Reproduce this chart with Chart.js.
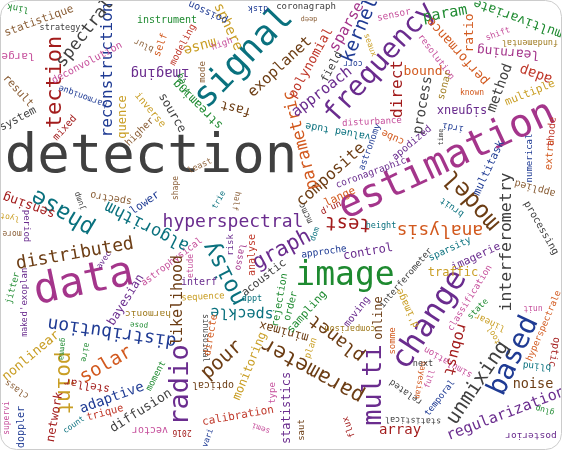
<!DOCTYPE html>
<html>
<head>
<meta charset="utf-8">
<script src="https://cdn.jsdelivr.net/npm/chart.js@4.4.1/dist/chart.umd.min.js"></script>
<style>
  html, body { margin: 0; padding: 0; background: #ffffff; }
  #wrap { position: relative; width: 562px; height: 450px; }
</style>
</head>
<body>
<div id="wrap"><canvas id="cloud"></canvas></div>
<script>
// word cloud, layout units match the 562 x 450 frame (y grows downward)
const words = [
  'detection', 'estimation', 'image', 'data', 'signal', 'frequency', 'change', 'multi', 'based', 'tection',
  'reconstruction', 'spectral', 'point', 'distribution', 'phase', 'model', 'radio', 'noisy', 'hyperspectral', 'parameter',
  'planet', 'unmixing', 'regularization', 'interferometry', 'analysis', 'test', 'composite', 'parametric', 'exoplanet', 'polynomial',
  'approach', 'kernel', 'sparse', 'field', 'coronagraph', 'disk', 'deep', 'sphere', 'muse', 'high',
  'poisson', 'imaging', 'instrument', 'statistique', 'link', 'strategy', 'large', 'deconvolution', 'result', 'system',
  'harmonique', 'mixed', 'quence', 'higher', 'inverse', 'source', 'blur', 'self', 'modeling', 'back',
  'streaming', 'mode', 'fast', 'sensor', 'param', 'multivariate', 'shift', 'fundamental', 'performance', 'ratio',
  'resolution', 'learning', 'adap', 'direct', 'bound', 'process', 'sonar', 'known', 'method', 'multiple',
  'signaux', 'irdi', 'time', 'apodized', 'cube', 'disturbance', 'valued tude', 'astronomy', 'coronagraphic', 'lange',
  "d'un", 'mcmc', 'graph', 'dom', 'approche', 'control', 'risk', 'lasso', 'analyse', 'half',
  'trie', 'least', 'shape', 'algorithm', 'lower', 'spectro', 'jump', 'sensing', 'period', 'lyot',
  'more', 'distributed', 'avec', 'astrophysical', 'etude', 'interf', 'sequence', 'likelihood', 'bayesian', 'harmonic',
  'pose', 'acoustic', 'speckle', 'dppt', 'sinusoidal', 'directe', 'pour', 'optical', 'monitoring', 'minimax',
  'rejection', 'order', 'sampling', 'moving', 'online', 'interferometer', "d'image", 'somme', 'comparison', 'plan',
  'statistics', 'saut', 'type', 'calibration', 'semi', 'vari', '2016', 'flux', 'array', 'statistical',
  'related', 'bayesian', 'next', 'full', 'temporal', 'simulation', 'robust', 'classification', 'state', 'linear',
  'tool', 'unit', 'hyperspectrale', 'optic', 'blind', 'noise', 'glup', 'posterior', 'extra', 'thode',
  'numerical', 'applied', 'processing', 'multitask', 'bruit', 'sparsity', 'imagerie', 'traffic', 'height', 'jitter',
  "d'exoplan", 'make', 'nonlinear', 'class', 'supervi', 'doppler', 'network', 'gamma', 'aire', 'solar',
  'stellar', 'adaptive', 'moment', 'trique', 'count', 'diffusion', 'vector', 'corr', 'seaux'
];

const posX = [
  151, 447, 345, 84, 244, 380, 430, 374, 514, 55,
  108, 85, 63, 112, 63, 472, 181, 225, 233, 313,
  337, 478, 506, 507, 440, 348, 331, 301, 280, 311,
  322, 360, 347, 332, 306, 258, 309, 228, 200, 222,
  208, 160, 167, 39, 18, 60, 18, 87, 18, 18,
  83, 65, 123, 140, 150, 172, 144, 161, 183, 183,
  198, 203, 236, 394, 445, 518, 498, 530, 458, 470,
  436, 508, 536, 398, 423, 423, 445, 472, 500, 530,
  462, 453, 441, 412, 393, 372, 338, 370, 371, 340,
  331, 306, 282, 315, 324, 368, 231, 240, 252, 236,
  219, 200, 176, 147, 145, 111, 80, 29, 26, 10,
  12, 75, 104, 172, 191, 199, 203, 178, 126, 148,
  139, 264, 242, 252, 205, 211, 222, 213, 250, 284,
  280, 291, 307, 357, 379, 406, 408, 393, 350, 311,
  287, 302, 273, 238, 261, 208, 182, 349, 400, 413,
  406, 420, 423, 430, 440, 448, 455, 470, 478, 490,
  494, 533, 544, 554, 537, 533, 545, 531, 550, 552,
  530, 535, 541, 489, 452, 450, 476, 453, 381, 13,
  25, 25, 31, 17, 7, 21, 55, 62, 85, 106,
  87, 112, 156, 105, 74, 141, 150, 353, 370
];

const posY = [
  158, 161, 276, 283, 58, 63, 320, 385, 356, 82,
  70, 33, 383, 332, 212, 200, 385, 273, 222, 370,
  338, 383, 414, 242, 230, 223, 175, 140, 67, 63,
  92, 30, 27, 67, 7, 8, 19, 27, 46, 44,
  12, 73, 20, 21, 8, 28, 56, 63, 91, 119,
  96, 128, 117, 132, 110, 113, 45, 45, 45, 84,
  104, 72, 108, 15, 14, 18, 34, 42, 51, 33,
  57, 52, 74, 89, 72, 105, 85, 93, 88, 93,
  110, 127, 137, 143, 137, 122, 131, 147, 173, 197,
  208, 213, 250, 234, 252, 252, 245, 257, 255, 201,
  200, 166, 188, 226, 203, 198, 201, 205, 226, 217,
  233, 254, 260, 262, 266, 282, 297, 300, 300, 313,
  325, 278, 313, 299, 338, 335, 360, 385, 366, 331,
  300, 306, 312, 312, 318, 278, 308, 341, 328, 348,
  408, 430, 393, 416, 428, 438, 432, 427, 430, 420,
  392, 380, 364, 379, 398, 362, 349, 298, 309, 322,
  335, 308, 326, 352, 366, 384, 410, 435, 155, 132,
  158, 188, 228, 168, 207, 249, 257, 273, 226, 288,
  292, 327, 356, 389, 418, 427, 417, 349, 352, 365,
  385, 398, 376, 413, 425, 411, 430, 63, 45
];

// word weight, drawn as the font size
const weight = [
  54, 39, 33, 42, 35, 28, 31, 27, 28, 22,
  16, 17, 21, 18, 23, 24, 27, 23, 18, 21,
  18, 20, 15, 16.5, 18, 19, 16, 17, 15, 13,
  15, 19, 15, 11, 9, 8.5, 7, 14, 14, 9,
  10, 14, 10, 11, 9, 8.5, 11, 10, 11, 11,
  8.5, 10, 12, 10, 10, 12, 8.5, 10, 9.5, 9,
  12, 9, 13, 9.5, 15, 13, 8.5, 8.5, 13, 13,
  9, 13, 14, 16, 13, 14, 10, 8, 14, 11,
  12, 9, 7, 10, 10, 9, 10, 9, 9.5, 11,
  9, 9, 21, 8, 9.5, 12, 9, 9, 10, 8,
  8, 8.5, 8, 17, 11, 10, 8, 13, 9, 8,
  8, 18, 8, 9.5, 8, 10, 9, 15, 12, 9.5,
  7.5, 11, 15, 8.5, 8, 10, 20, 10, 12, 12,
  10, 10, 11, 10, 12, 9, 10, 9, 8.5, 9,
  12, 9, 9, 11, 8, 8, 8, 9, 14, 8.5,
  9, 8, 8.5, 8, 9, 9, 15, 9, 8.5, 9,
  8, 8, 9, 10, 9.5, 13.5, 8, 9.5, 10, 10,
  9, 10, 10, 11, 9, 9.5, 11, 12, 8.5, 9,
  9, 8, 13, 9, 8, 10, 12, 7.5, 8, 19,
  11, 14, 9, 10.5, 8, 13, 10, 8, 8
];

// rotation in degrees, clockwise
const tilt = [
  0, -25, 0, -12, -46, -48, -57, -90, -65, -90,
  -90, -52, 90, 188, 211, 229, -90, 243, 0, 209,
  218, -56, -21, -90, 180, 183, -42, -104, -43, -61,
  -38, -67, -60, -62, 0, 180, 178, 65, 165, -20,
  205, 180, 0, -20, 190, 0, 180, -28, 48, -28,
  200, -48, -90, -45, 50, 60, 205, -70, -62, 70,
  225, -90, 195, -12, -10, 200, -20, 180, 228, -90,
  53, 185, 200, -90, 0, -80, -75, 0, -70, -22,
  180, 190, -90, -40, 205, -3, 190, -70, -20, -25,
  -25, 245, -28, -70, -8, -10, -90, 100, -90, 100,
  -60, -25, -90, 207, -35, 190, 250, 200, 90, 190,
  180, -10, -55, -37, -90, 0, -3, -90, -58, 180,
  185, -38, 182, 0, 90, -80, -42, 180, -68, 195,
  -80, -75, -48, -52, -90, -49, 245, -90, 180, -70,
  -90, -90, -90, -10, 200, -70, 180, 250, 0, 182,
  215, 100, 0, -70, -52, 210, 105, -58, -45, 205,
  240, 180, -67, 100, 185, 0, 195, 180, -85, -85,
  -90, 195, 60, -65, 215, -25, -25, 0, 0, -75,
  -90, -90, -40, 215, -90, -90, -80, 95, 100, -30,
  190, -20, -62, -15, -35, -32, 180, 180, 70
];

const tone = [
  'g', 'm', 'gr', 'm', 't', 'p', 'p', 'p', 'n', 'r',
  'n', 'g', 'y', 'n', 't', 'b', 'p', 't', 'p', 'b',
  'b', 'g', 'p', 'g', 'o', 'r', 'b', 'o', 'b', 'r2',
  'p', 'n', 'm', 'g', 'g', 'n', 'l', 'y', 'y', 'k',
  'n', 'p', 'gr', 'l', 'gr', 'g', 'k', 'k', 'l', 'g',
  'n', 'r', 'y', 'l', 'y', 'g', 'l', 'o', 'r2', 'gr',
  'gr', 'l', 'b', 'k', 'gr', 'gr', 'k', 'y2', 'o', 'o',
  'k', 'm', 'r2', 'r', 'o', 'g', 'y2', 'o', 'g', 'y',
  'p', 'n', 'g', 'p', 'o', 'k', 't', 'n', 'p', 'o',
  'r', 'g', 'p', 't', 'n', 'p', 'p', 'm', 'r2', 'l',
  't', 'l', 'l', 't', 'n', 'l', 'g', 'r', 'p', 'y',
  'l', 'b', 'p', 'k', 'k', 'p', 'y', 'b', 'p', 'y2',
  'gr', 'g', 't', 't', 'g', 'o', 'b', 'b', 'y', 'b',
  'gr', 'gr', 'gr', 'p', 'b', 'g', 'y', 'o', 'y2', 'y',
  'p', 'b', 'k', 'r2', 'k', 'n', 'r', 'r', 'r', 'g',
  'g', 'o', 'g', 'k', 'n', 'k', 'r', 'k', 'gr', 'y',
  'y', 'k', 'o', 'r', 't', 'b', 'gr', 'p', 'o', 'r2',
  'n', 'l', 'g', 'n', 't', 't', 'p', 'y', 't', 'gr',
  'p', 'p', 'y', 'l', 'k', 'n', 'r', 'gr', 'gr', 'o',
  'r', 'n', 'gr', 'r2', 't', 'g', 'k', 'n', 'y'
];

const palette = {
  g: '#404040', n: '#1f3b94', t: '#0a717e', gr: '#1e8a30', p: '#6a2c8e',
  m: '#a4358b', b: '#6c3d14', r: '#a31c1c', r2: '#c0392b', o: '#d2591e',
  y: '#c99e24', y2: '#a07c20', k: '#c6509c', l: '#8a5e36'
};

const wordPlugin = {
  id: 'wordLabels',
  afterDatasetsDraw(chart) {
    const ctx = chart.ctx;
    const meta = chart.getDatasetMeta(0);
    ctx.save();
    ctx.textAlign = 'center';
    ctx.textBaseline = 'middle';
    meta.data.forEach((pt, i) => {
      ctx.save();
      ctx.translate(pt.x, pt.y);
      ctx.rotate(tilt[i] * Math.PI / 180);
      ctx.font = weight[i] + 'px "DejaVu Sans Mono"';
      ctx.fillStyle = palette[tone[i]];
      ctx.fillText(words[i], 0, 0);
      ctx.restore();
    });
    ctx.restore();
  }
};

const framePlugin = {
  id: 'frame',
  afterDraw(chart) {
    const ctx = chart.ctx;
    ctx.save();
    ctx.strokeStyle = '#cccccc';
    ctx.lineWidth = 1;
    ctx.beginPath();
    ctx.roundRect(0.5, 0.5, chart.width - 1, chart.height - 1, 16);
    ctx.stroke();
    ctx.restore();
  }
};

new Chart(document.getElementById('cloud'), {
  type: 'scatter',
  data: {
    datasets: [{
      data: words.map((w, i) => ({ x: posX[i], y: posY[i] })),
      pointRadius: 0,
      pointHoverRadius: 0
    }]
  },
  options: {
    responsive: true,
    maintainAspectRatio: false,
    animation: false,
    events: [],
    layout: { padding: 0 },
    plugins: { legend: { display: false }, tooltip: { enabled: false } },
    scales: {
      x: { type: 'linear', min: 0, max: 562, display: false },
      y: { type: 'linear', min: 0, max: 450, reverse: true, display: false }
    }
  },
  plugins: [wordPlugin, framePlugin]
});
</script>
</body>
</html>
